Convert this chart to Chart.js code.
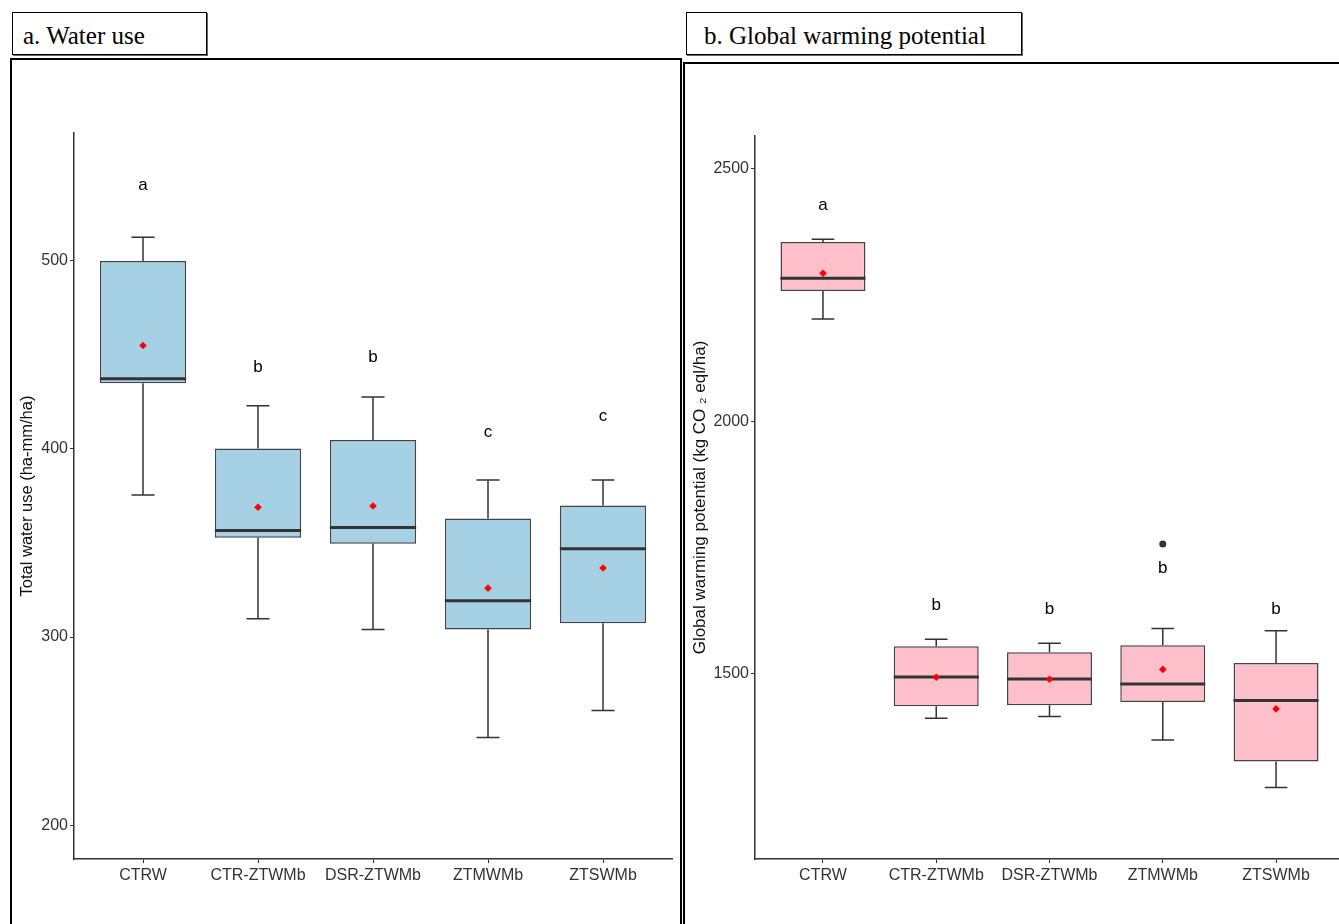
<!DOCTYPE html>
<html>
<head>
<meta charset="utf-8">
<script src="https://cdn.jsdelivr.net/npm/chart.js@4.4.1/dist/chart.umd.min.js"></script>
<style>
body{margin:0;width:1339px;height:924px;overflow:hidden;background:#fff;position:relative;}
.ttl{position:absolute;top:12px;height:43px;border:1.5px solid #000;box-shadow:1px 1px 0 #666;font:25px "Liberation Serif";line-height:46px;box-sizing:border-box;color:#000;white-space:nowrap}
.frame{position:absolute;border:2px solid #000;box-sizing:border-box}
canvas{position:absolute}
</style>
</head>
<body>
<div class="ttl" style="left:12px;width:195px;padding-left:10px">a. Water use</div>
<div class="ttl" style="left:686px;width:336px;padding-left:17px">b. Global warming potential</div>
<div class="frame" style="left:10px;top:58px;width:672px;height:900px"></div>
<div class="frame" style="left:683px;top:62px;width:700px;height:900px"></div>
<canvas id="water" width="668" height="864" style="left:12px;top:60px"></canvas>
<canvas id="gwp" width="668" height="860" style="left:686px;top:64px"></canvas>
<script>
// categories
const treatments = ['CTRW', 'CTR-ZTWMb', 'DSR-ZTWMb', 'ZTMWMb', 'ZTSWMb'];

// a. water use (ha-mm/ha)
const waterMin = [375.5, 309.7, 304, 246.6, 261];
const waterQ1 = [435, 352.8, 349.6, 304, 307.3];
const waterMedian = [437.4, 356.7, 358.3, 319.3, 347];
const waterQ3 = [500, 400.2, 404.8, 363, 370];
const waterMax = [512.6, 423, 427.7, 383.5, 383.5];
const waterMean = [455, 369, 369.7, 326, 336.7];
const waterLetters = ['a', 'b', 'b', 'c', 'c'];
const waterLetterY = [540, 443.6, 449, 409, 417.5];
const waterTicks = [200, 300, 400, 500];

// b. global warming potential (kg CO2 eql/ha)
const gwpMin = [2202, 1412.5, 1415.7, 1369.6, 1275.4];
const gwpQ1 = [2257.6, 1436.2, 1438, 1444.7, 1326.8];
const gwpMedian = [2282.7, 1494, 1490, 1480, 1447.3];
const gwpQ3 = [2354.5, 1554.7, 1542.9, 1556.7, 1521.7];
const gwpMax = [2359.7, 1568.5, 1560.6, 1590, 1585.5];
const gwpMean = [2292.6, 1493.5, 1489.5, 1509, 1430.9];
const gwpOutlierX = [4];
const gwpOutlierY = [1757];
const gwpLetters = ['a', 'b', 'b', 'b', 'b'];
const gwpLetterY = [2427, 1636, 1628, 1709, 1628];
const gwpTicks = [1500, 2000, 2500];

const FONT = 'Liberation Sans';

function boxChart(id, s) {
    const boxParts = {
        id: 'boxParts',
        beforeDatasetsDraw(chart) {
            // whiskers + caps
            const ctx = chart.ctx, x = chart.scales.x, y = chart.scales.y;
            ctx.save();
            ctx.strokeStyle = '#333';
            ctx.lineWidth = 1.5;
            s.min.forEach((mn, i) => {
                const px = x.getPixelForValue(i + 1);
                const half = x.getPixelForValue(i + 1.1) - px;
                ctx.beginPath();
                ctx.moveTo(px, y.getPixelForValue(s.max[i]));
                ctx.lineTo(px, y.getPixelForValue(s.q3[i]));
                ctx.moveTo(px, y.getPixelForValue(s.q1[i]));
                ctx.lineTo(px, y.getPixelForValue(mn));
                ctx.moveTo(px - half, y.getPixelForValue(s.max[i]));
                ctx.lineTo(px + half, y.getPixelForValue(s.max[i]));
                ctx.moveTo(px - half, y.getPixelForValue(mn));
                ctx.lineTo(px + half, y.getPixelForValue(mn));
                ctx.stroke();
            });
            ctx.restore();
        },
        afterDatasetDraw(chart, args) {
            if (args.index !== 2) return;
            // median lines on top of the boxes
            const ctx = chart.ctx, x = chart.scales.x, y = chart.scales.y;
            ctx.save();
            ctx.strokeStyle = '#333';
            ctx.lineWidth = 3;
            s.median.forEach((m, i) => {
                const py = y.getPixelForValue(m);
                ctx.beginPath();
                ctx.moveTo(x.getPixelForValue(i + 1 - 0.375), py);
                ctx.lineTo(x.getPixelForValue(i + 1 + 0.375), py);
                ctx.stroke();
            });
            ctx.restore();
        },
        afterDraw(chart) {
            // significance letters
            const ctx = chart.ctx, x = chart.scales.x, y = chart.scales.y;
            ctx.save();
            ctx.fillStyle = '#000';
            ctx.font = '17px ' + FONT;
            ctx.textAlign = 'center';
            ctx.textBaseline = 'middle';
            s.letters.forEach((t, i) => {
                ctx.fillText(t, x.getPixelForValue(i + 1), y.getPixelForValue(s.letterY[i]));
            });
            ctx.restore();
        }
    };

    return new Chart(document.getElementById(id), {
        type: 'bar',
        data: {
            datasets: [{
                type: 'scatter',
                data: s.mean.map((v, i) => ({ x: i + 1, y: v })),
                pointStyle: 'rectRot',
                pointRadius: 3.8,
                backgroundColor: '#ff0000',
                borderWidth: 0
            }, {
                type: 'scatter',
                data: s.outX.map((v, i) => ({ x: v, y: s.outY[i] })),
                pointRadius: 3.5,
                backgroundColor: '#333',
                borderWidth: 0
            }, {
                type: 'bar',
                data: s.q1.map((v, i) => ({ x: i + 1, y: [v, s.q3[i]] })),
                backgroundColor: s.fill,
                borderColor: '#444',
                borderWidth: 1.5,
                borderSkipped: false,
                barPercentage: 0.75,
                categoryPercentage: 1
            }]
        },
        options: {
            responsive: false,
            animation: false,
            layout: { padding: { top: s.padTop, right: s.padRight, left: 0, bottom: 0 } },
            plugins: { legend: { display: false }, tooltip: { enabled: false } },
            scales: {
                x: {
                    type: 'linear',
                    min: 0.4,
                    max: 5.6,
                    offset: false,
                    afterBuildTicks: sc => { sc.ticks = treatments.map((_, i) => ({ value: i + 1 })); },
                    afterFit: sc => { sc.height = 65; },
                    ticks: {
                        callback: v => treatments[Math.round(v) - 1],
                        font: { family: FONT, size: 16 },
                        color: '#333',
                        padding: 3,
                        autoSkip: false,
                        maxRotation: 0
                    },
                    grid: { drawOnChartArea: false, offset: false, tickLength: 4, color: '#333' },
                    border: { color: '#333', width: 1.5 }
                },
                y: {
                    min: s.yMin,
                    max: s.yMax,
                    afterBuildTicks: sc => { sc.ticks = s.ticks.map(v => ({ value: v })); },
                    afterFit: sc => { sc.width = s.leftWidth; },
                    ticks: { callback: v => String(v), font: { family: FONT, size: 16 }, color: '#333', padding: 2 },
                    grid: { drawOnChartArea: false, tickLength: 4, color: '#333' },
                    border: { color: '#333', width: 1.5 },
                    title: {
                        display: true,
                        text: s.yTitle,
                        font: { family: FONT, size: s.titleSize },
                        color: '#111',
                        padding: { top: s.titlePad, bottom: 0 }
                    }
                }
            }
        },
        plugins: [boxParts]
    });
}

boxChart('water', {
    min: waterMin, q1: waterQ1, median: waterMedian, q3: waterQ3, max: waterMax, mean: waterMean,
    outX: [], outY: [], letters: waterLetters, letterY: waterLetterY, ticks: waterTicks,
    yMin: 182, yMax: 568, fill: '#a6d1e4', yTitle: 'Total water use (ha-mm/ha)',
    leftWidth: 62, titleSize: 16.5, titlePad: 6, padTop: 73, padRight: 8
});

boxChart('gwp', {
    min: gwpMin, q1: gwpQ1, median: gwpMedian, q3: gwpQ3, max: gwpMax, mean: gwpMean,
    outX: gwpOutlierX, outY: gwpOutlierY, letters: gwpLetters, letterY: gwpLetterY, ticks: gwpTicks,
    yMin: 1134, yMax: 2564, fill: '#ffc0cb', yTitle: 'Global warming potential (kg CO \u2082 eql/ha)',
    leftWidth: 69, titleSize: 17, titlePad: 4, padTop: 72, padRight: 10
});
</script>
</body>
</html>
